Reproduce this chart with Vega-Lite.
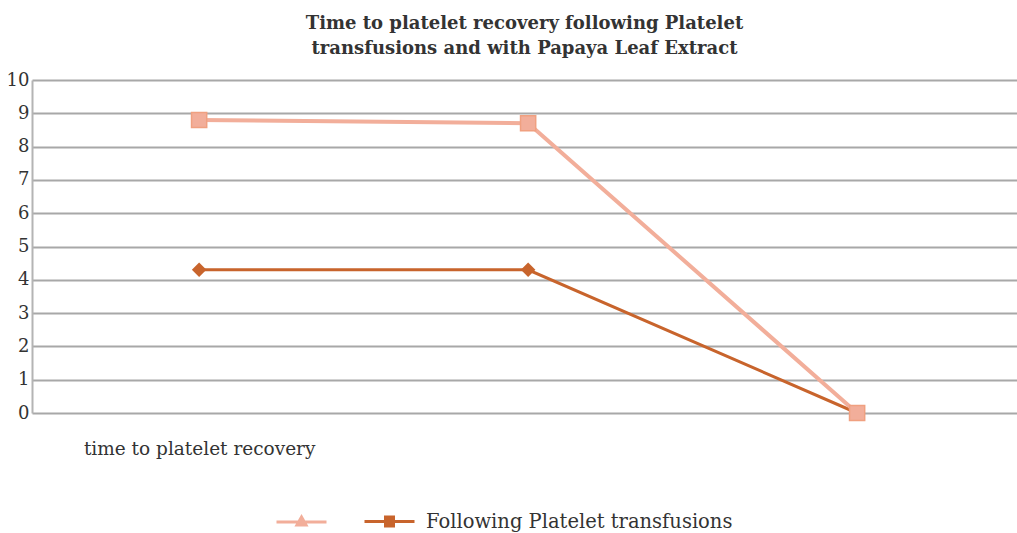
{
  "$schema": "https://vega.github.io/schema/vega-lite/v6.json",
  "autosize": "none",
  "width": 985,
  "height": 333,
  "padding": {"left": 32, "top": 80, "right": 0, "bottom": 120},
  "background": "white",
  "title": {
    "text": ["Time to platelet recovery following Platelet", "transfusions and with Papaya Leaf Extract"],
    "font": "DejaVu Serif",
    "fontSize": 18,
    "fontWeight": "bold",
    "color": "#333333",
    "lineHeight": 25,
    "anchor": "middle",
    "offset": 13
  },
  "data": {
    "values": [
      {"point": 1, "series": "Following Platelet transfusions", "value": 4.3},
      {"point": 2, "series": "Following Platelet transfusions", "value": 4.3},
      {"point": 3, "series": "Following Platelet transfusions", "value": 0},
      {"point": 1, "series": "With Papaya Leaf Extract", "value": 8.8},
      {"point": 2, "series": "With Papaya Leaf Extract", "value": 8.7},
      {"point": 3, "series": "With Papaya Leaf Extract", "value": 0}
    ]
  },
  "encoding": {
    "x": {
      "field": "point",
      "type": "quantitative",
      "scale": {"domain": [0.492, 3.486], "nice": false, "zero": false},
      "axis": {
        "title": null,
        "values": [1, 2, 3],
        "labelExpr": "datum.value == 1 ? 'time to platelet recovery' : ''",
        "labelLimit": 0,
        "grid": false,
        "domain": false,
        "ticks": false,
        "labelPadding": 26,
        "labelFont": "DejaVu Serif",
        "labelFontSize": 18.5,
        "labelColor": "#333333"
      }
    },
    "y": {
      "field": "value",
      "type": "quantitative",
      "scale": {"domain": [0, 10], "nice": false},
      "axis": {
        "title": null,
        "values": [0, 1, 2, 3, 4, 5, 6, 7, 8, 9, 10],
        "grid": true,
        "gridColor": "#a8a8a8",
        "gridWidth": 2,
        "domainColor": "#b4b4b4",
        "domainWidth": 2,
        "ticks": false,
        "labelPadding": 3,
        "labelFont": "DejaVu Serif",
        "labelFontSize": 18,
        "labelColor": "#333333"
      }
    },
    "color": {
      "field": "series",
      "type": "nominal",
      "sort": ["With Papaya Leaf Extract", "Following Platelet transfusions"],
      "scale": {
        "domain": ["With Papaya Leaf Extract", "Following Platelet transfusions"],
        "range": ["#f2ae9a", "#c8642c"]
      },
      "legend": {
        "title": null,
        "orient": "none",
        "direction": "horizontal",
        "legendX": 243,
        "legendY": 415,
        "symbolSize": 2500,
        "symbolStrokeWidth": 3,
        "labelOffset": 10,
        "columnPadding": 20,
        "labelLimit": 0,
        "labelFont": "DejaVu Serif",
        "labelFontSize": 19.5,
        "labelColor": "#333333",
        "labelExpr": "datum.value == 'With Papaya Leaf Extract' ? '' : datum.label",
        "encode": {
          "symbols": {
            "update": {
              "shape": {"signal": "datum.value == 'With Papaya Leaf Extract' ? 'M-1,0H1M0,-0.2L0.18,0.12L-0.18,0.12Z' : 'M-1,0H1M-0.16,-0.18H0.16V0.18H-0.16Z'"},
              "stroke": {"signal": "datum.value == 'With Papaya Leaf Extract' ? '#f2ae9a' : '#d2692c'"},
              "fill": {"signal": "datum.value == 'With Papaya Leaf Extract' ? '#f2ae9a' : '#e07a34'"},
              "strokeWidth": {"value": 3},
              "opacity": {"value": 1}
            }
          }
        }
      }
    }
  },
  "layer": [
    {
      "transform": [{"filter": "datum.series == 'Following Platelet transfusions'"}],
      "mark": {"type": "line", "strokeWidth": 3},
      "encoding": {}
    },
    {
      "transform": [{"filter": "datum.series == 'Following Platelet transfusions'"}],
      "mark": {"type": "point", "shape": "diamond", "filled": true, "size": 210, "opacity": 1},
      "encoding": {}
    },
    {
      "transform": [{"filter": "datum.series == 'With Papaya Leaf Extract'"}],
      "mark": {"type": "line", "strokeWidth": 4},
      "encoding": {}
    },
    {
      "transform": [{"filter": "datum.series == 'With Papaya Leaf Extract'"}],
      "mark": {"type": "point", "shape": "square", "filled": true, "size": 230, "opacity": 1, "stroke": "#f0a080", "strokeWidth": 1.5},
      "encoding": {}
    }
  ],
  "config": {
    "view": {"stroke": null}
  }
}
